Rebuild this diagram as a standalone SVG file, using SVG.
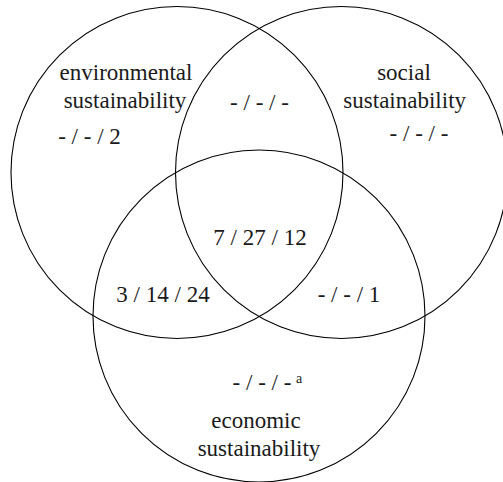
<svg xmlns="http://www.w3.org/2000/svg" width="503" height="482" viewBox="0 0 503 482">
<style>
.c{fill:none;stroke:#000;stroke-width:1.1}
.t{font-family:"Liberation Serif","Times New Roman",serif;font-size:23px;fill:#1a1a1a;text-anchor:middle}
.s{font-family:"Liberation Serif","Times New Roman",serif;font-size:14px;fill:#1a1a1a}
</style>
<rect width="503" height="482" fill="#fff"/>
<g id="environmental">
<circle class="c" cx="177" cy="172.5" r="166"/>
<text class="t" x="126" y="80">environmental</text>
<text class="t" x="125" y="107.7">sustainability</text>
<text class="t" x="89.5" y="144">- / - / 2</text>
</g>
<g id="social">
<circle class="c" cx="341.5" cy="172.5" r="166"/>
<text class="t" x="404" y="80">social</text>
<text class="t" x="404.7" y="107.7">sustainability</text>
<text class="t" x="419" y="141">- / - / -</text>
</g>
<g id="economic">
<circle class="c" cx="259" cy="316" r="166"/>
<text class="t" x="256" y="428">economic</text>
<text class="t" x="259" y="456">sustainability</text>
<text class="t" x="262" y="390">- / - / -</text>
<text class="s" x="296" y="383">a</text>
</g>
<g id="intersections">
<text class="t" x="259.5" y="110">- / - / -</text>
<text class="t" x="260" y="245">7 / 27 / 12</text>
<text class="t" x="163" y="301.7">3 / 14 / 24</text>
<text class="t" x="349" y="301.7">- / - / 1</text>
</g>
<g id="connectors"/>
</svg>
